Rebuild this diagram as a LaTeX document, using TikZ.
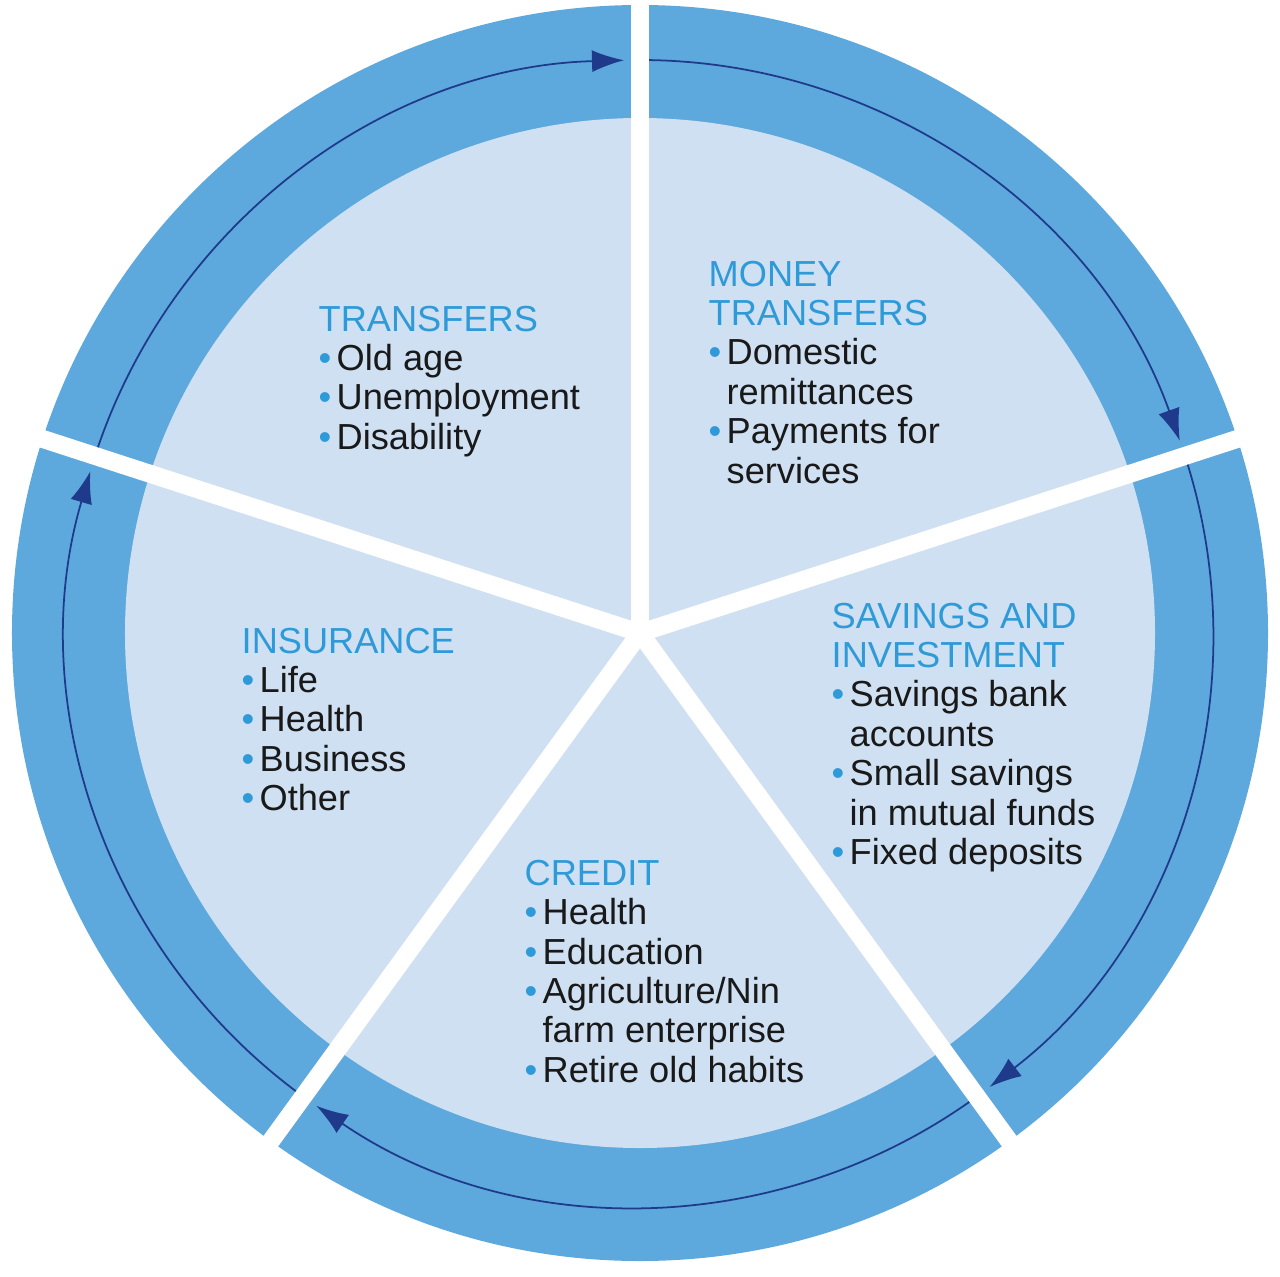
\documentclass[tikz,border=0pt]{standalone}
\usepackage{fontspec}
\setmainfont{Liberation Sans}
\usetikzlibrary{arrows.meta}
\definecolor{ringblue}{HTML}{5DA8DC}
\definecolor{paleblue}{HTML}{CFE0F2}
\definecolor{titleblue}{HTML}{2F9AD8}
\definecolor{arcblue}{HTML}{1F3A8A}
\newcommand{\bul}{{\color{titleblue}\textbullet}}
\newcommand{\sector}[2]{\begin{tabular}{@{}l@{\hspace{1.5pt}}l@{}}\multicolumn{2}{@{}l@{}}{\color{titleblue}#1}\\#2\end{tabular}}
\begin{document}
\begin{tikzpicture}[
		sector/.style={anchor=north west, inner sep=0pt, font=\fontsize{10.3}{11.2}\selectfont, text=black!90},
		arc/.style={-{Latex[length=3.2mm,width=2.2mm]}, arcblue, line width=0.5pt},
		gap/.style={white, line width=1.8mm}
	]
	% Wheel
	\useasboundingbox (-6.4,-6.43) rectangle (6.4,6.33);
	\fill[ringblue] (0,0) circle[radius=6.28];
	\fill[paleblue] (0,0) circle[radius=5.15];
	% Arrows round the wheel
	\foreach \a/\b in {162/90, 90/18, 18/-54, -54/-126, -126/-198}
		\draw[arc] (\a:5.73) arc[start angle=\a, end angle=\b+1.6, radius=5.73];
	% Gaps
	\foreach \g in {90, 18, -54, -126, 162}
		\draw[gap] (0,0) -- (\g:6.6);
	% Sectors
	\node[sector] (transfers) at (-3.22,3.30) {\sector{TRANSFERS}{\bul & Old age\\ \bul & Unemployment\\ \bul & Disability}};
	\node[sector] (money) at (0.68,3.75) {\sector{MONEY}{\multicolumn{2}{@{}l@{}}{\color{titleblue}TRANSFERS}\\ \bul & Domestic\\ & remittances\\ \bul & Payments for\\ & services}};
	\node[sector] (savings) at (1.91,0.33) {\sector{SAVINGS AND}{\multicolumn{2}{@{}l@{}}{\color{titleblue}INVESTMENT}\\ \bul & Savings bank\\ & accounts\\ \bul & Small savings\\ & in mutual funds\\ \bul & Fixed deposits}};
	\node[sector] (credit) at (-1.16,-2.24) {\sector{CREDIT}{\bul & Health\\ \bul & Education\\ \bul & Agriculture/Nin\\ & farm enterprise\\ \bul & Retire old habits}};
	\node[sector] (insurance) at (-3.99,0.08) {\sector{INSURANCE}{\bul & Life\\ \bul & Health\\ \bul & Business\\ \bul & Other}};
\end{tikzpicture}
\end{document}
